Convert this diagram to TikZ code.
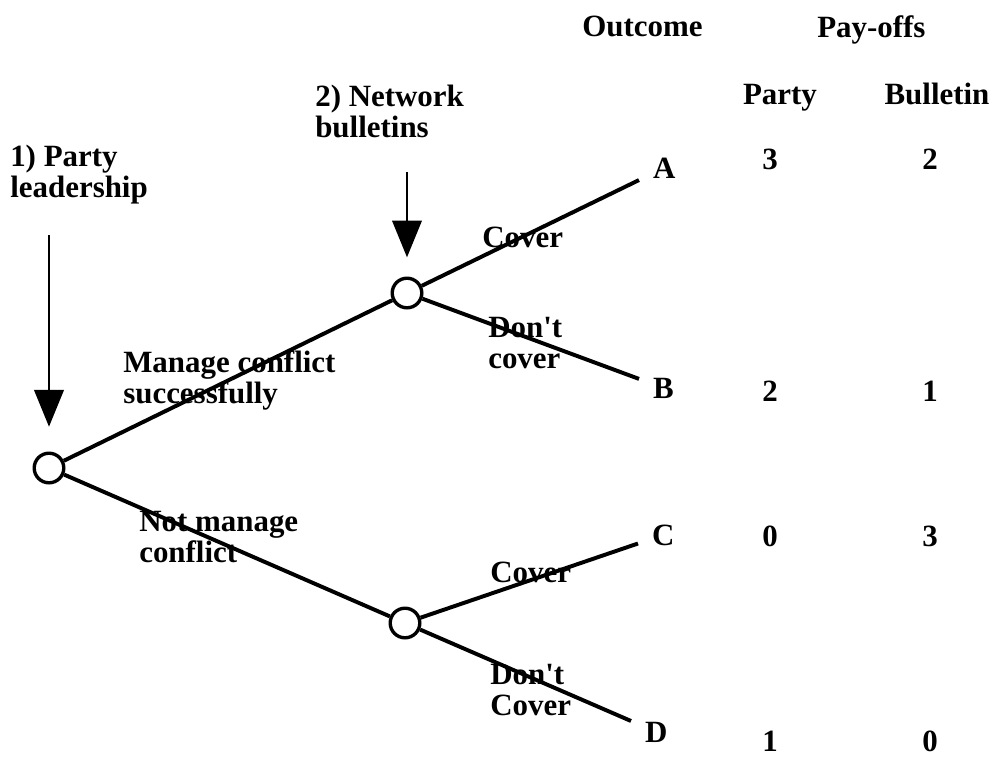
\documentclass[tikz,border=0pt]{standalone}
\usepackage{fontspec}
\setmainfont{Liberation Serif}
\usetikzlibrary{arrows.meta}

\tikzset{
  every node/.style={font=\fontsize{22}{22}\selectfont\bfseries, inner sep=0pt},
  decision/.style={circle, draw, line width=2.4pt, fill=white, minimum size=0.74cm},
  branch/.style={line width=2.8pt},
  pointer/.style={line width=1.5pt, -{Triangle[width=0.74cm, length=0.92cm]}},
  outcome/.style={anchor=base west, inner sep=1pt, outer sep=9pt},
  label/.style={anchor=base west, align=left}
}

\begin{document}
\begin{tikzpicture}[x=0.025cm, y=-0.025cm]
    \useasboundingbox (0,0) rectangle (996,758);
    % Decision points
    \node[decision] (root) at (49,468) {};
    \node[decision] (up) at (407,293) {};
    \node[decision] (low) at (405,623) {};
    % Outcomes
    \node[outcome] (A) at (639,178) {A};
    \node[outcome] (B) at (639,398) {B};
    \node[outcome] (C) at (638,545) {C};
    \node[outcome] (D) at (631,742) {D};
    % Branches
    \draw[branch] (root) -- (up);
    \draw[branch] (root) -- (low);
    \draw[branch] (up) -- (A);
    \draw[branch] (up) -- (B);
    \draw[branch] (low) -- (C);
    \draw[branch] (low) -- (D);
    % Players (base = last line)
    \node[label] (lead) at (10,197) {1) Party\\leadership};
    \node[label] (bull) at (315,137) {2) Network\\bulletins};
    \draw[pointer] ([yshift=5.4cm]root.north) -- ([yshift=0.62cm]root.north);
    \draw[pointer] ([yshift=2.6cm]up.north) -- ([yshift=0.48cm]up.north);
    % Moves
    \node[label] (manage) at (123,403) {Manage conflict\\successfully};
    \node[label] (notmanage) at (139,562) {Not manage\\conflict};
    \node[label] (cov1) at (482,247) {Cover};
    \node[label] (dont1) at (488,368) {Don\textquotesingle t\\cover};
    \node[label] (cov2) at (490,582) {Cover};
    \node[label] (dont2) at (490,715) {Don\textquotesingle t\\Cover};
    % Headings
    \node[anchor=base west] (hout) at (582,36) {Outcome};
    \node[anchor=base west] (hpay) at (817,37) {Pay-offs};
    \node[anchor=base] (hparty) at (780,104) {Party};
    \node[anchor=base] (hbull) at (937,104) {Bulletin};
    % Pay-offs
    \foreach \n/\y/\p/\b in {a/169/3/2, b/401/2/1, c/546/0/3, d/751/1/0} {
        \node[anchor=base] (p\n) at (770,\y) {\p};
        \node[anchor=base] (q\n) at (930,\y) {\b};
    }
\end{tikzpicture}
\end{document}
